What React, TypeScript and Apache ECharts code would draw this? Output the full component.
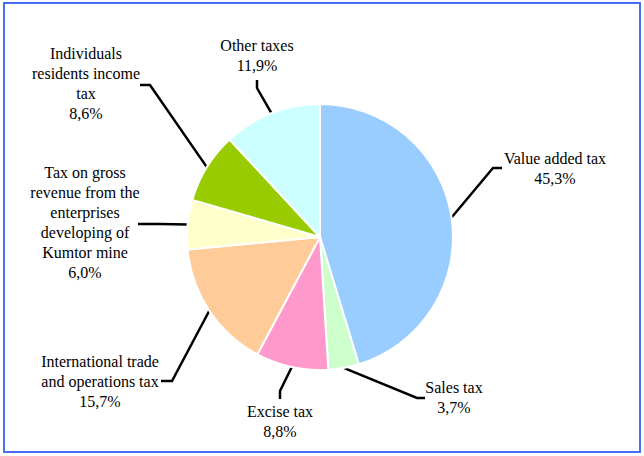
import React, { useEffect, useRef } from "react";
import * as echarts from "echarts";

const categories = [
  "Value added tax",
  "Sales tax",
  "Excise tax",
  "International trade\nand operations tax",
  "Tax on gross\nrevenue from the\nenterprises\ndeveloping of\nKumtor mine",
  "Individuals\nresidents income\ntax",
  "Other taxes",
];
const shares = [45.3, 3.7, 8.8, 15.7, 6.0, 8.6, 11.9];
const colors = ["#99CCFF", "#CCFFCC", "#FF99CC", "#FFCC99", "#FFFFCC", "#99CC00", "#CCFFFF"];

// label placement (layout only): label anchor, leader elbow, leader end
const labelPlace = [
  { x: 555, y: 148, elbow: [493, 168], end: [502, 168] },
  { x: 454, y: 377, elbow: [417, 398], end: [425, 398] },
  { x: 280, y: 401, elbow: [280, 391], end: [280, 399] },
  { x: 100, y: 351, elbow: [172, 381], end: [161, 381] },
  { x: 85, y: 162, elbow: [160, 224], end: [138, 224] },
  { x: 86, y: 43, elbow: [150, 85], end: [140, 85] },
  { x: 257, y: 35, elbow: [257, 88], end: [257, 80] },
];

const FONT = "Liberation Serif";

export default function App() {
  const ref = useRef<HTMLDivElement>(null);
  useEffect(() => {
    if (!ref.current) return;
    const chart = echarts.init(ref.current, null, { renderer: "svg" });
    chart.setOption({
      animation: false,
      backgroundColor: "#ffffff",
      series: [
        {
          type: "pie",
          center: [320, 237],
          radius: 133,
          startAngle: 90,
          clockwise: true,
          avoidLabelOverlap: false,
          itemStyle: { borderColor: "#ffffff", borderWidth: 2 },
          label: {
            show: true,
            position: "outside",
            fontFamily: FONT,
            fontSize: 16,
            lineHeight: 20,
            color: "#000000",
            align: "center",
            formatter: (p: any) => p.name + "\n" + Number(p.value).toFixed(1).replace(".", ",") + "%",
          },
          labelLine: { show: true, smooth: false, lineStyle: { color: "#000000", width: 2.5 } },
          labelLayout: (params: any) => {
            const pl = labelPlace[params.dataIndex];
            const start = params.labelLinePoints ? params.labelLinePoints[0] : pl.elbow;
            return {
              x: pl.x,
              y: pl.y,
              align: "center",
              verticalAlign: "top",
              labelLinePoints: [start, pl.elbow, pl.end],
            };
          },
          data: categories.map((name, i) => ({ name, value: shares[i], itemStyle: { color: colors[i] } })),
        },
      ],
    });
    chart.setOption({
      graphic: [
        {
          type: "rect",
          shape: { x: 4, y: 3, width: 636, height: 449 },
          style: { fill: "none", stroke: "#4A6EF2", lineWidth: 2 },
          silent: true,
        },
      ],
    });
    return () => chart.dispose();
  }, []);
  return <div ref={ref} style={{ position: "absolute", left: 0, top: 0, width: 644, height: 456 }} />;
}
